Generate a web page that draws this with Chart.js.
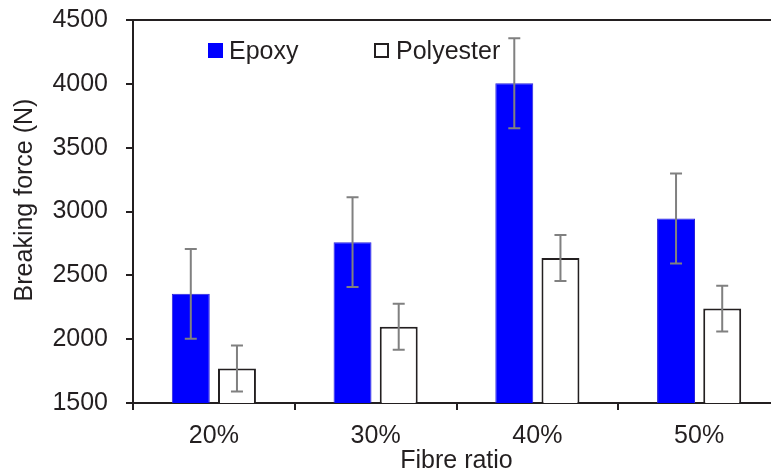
<!DOCTYPE html>
<html>
<head>
<meta charset="utf-8">
<script src="https://cdn.jsdelivr.net/npm/chart.js@4/dist/chart.umd.min.js"></script>
<style>
  html, body { margin: 0; padding: 0; background: #fff; overflow: hidden; }
  #wrap { width: 782px; height: 474px; }
</style>
</head>
<body>
<div id="wrap"><canvas id="c" width="782" height="474"></canvas></div>
<script>
// ---- data ----
const categories = ['20%', '30%', '40%', '50%'];
const epoxy = [2355, 2760, 4005, 2945];
const epoxyErr = [352, 352, 353, 352];
const polyester = [1770, 2097, 2635, 2240];
const polyesterErr = [180, 180, 180, 179];
const yTicks = [1500, 2000, 2500, 3000, 3500, 4000, 4500];
const seriesNames = ['Epoxy', 'Polyester'];
const yTitle = 'Breaking force (N)';
const xTitle = 'Fibre ratio';

const ink = '#231f20';
const FONT = '"Liberation Sans", Arial, sans-serif';

const errorBars = {
  id: 'errorBars',
  afterDatasetsDraw(chart) {
    const ctx = chart.ctx;
    const y = chart.scales.y;
    const errs = [epoxyErr, polyesterErr];
    ctx.save();
    ctx.strokeStyle = '#808080';
    ctx.lineWidth = 2;
    chart.data.datasets.forEach((ds, di) => {
      const meta = chart.getDatasetMeta(di);
      meta.data.forEach((bar, i) => {
        const v = ds.data[i], e = errs[di][i];
        const x = bar.x;
        const yt = y.getPixelForValue(v + e);
        const yb = y.getPixelForValue(v - e);
        ctx.beginPath();
        ctx.moveTo(x, yt); ctx.lineTo(x, yb);
        ctx.moveTo(x - 6, yt); ctx.lineTo(x + 6, yt);
        ctx.moveTo(x - 6, yb); ctx.lineTo(x + 6, yb);
        ctx.stroke();
      });
    });
    ctx.restore();
  }
};

const frameAndLegend = {
  id: 'frameAndLegend',
  afterDraw(chart) {
    const ctx = chart.ctx;
    const a = chart.chartArea;
    ctx.save();
    ctx.strokeStyle = ink;
    ctx.lineWidth = 2;
    ctx.beginPath();
    ctx.moveTo(a.left - 1, a.top);
    ctx.lineTo(a.right + 1, a.top);
    ctx.stroke();
    const ds = chart.data.datasets;
    ctx.font = '25px ' + FONT;
    ctx.textBaseline = 'alphabetic';
    ctx.textAlign = 'left';
    ctx.fillStyle = ds[0].backgroundColor;
    ctx.fillRect(208, 43, 15, 15);
    ctx.fillStyle = ink;
    ctx.fillText(ds[0].label, 229, 59);
    ctx.fillStyle = '#fff';
    ctx.fillRect(375, 44, 13, 13);
    ctx.strokeStyle = ink;
    ctx.lineWidth = 2;
    ctx.strokeRect(375, 44, 13, 13);
    ctx.fillStyle = ink;
    ctx.fillText(ds[1].label, 396, 59);
    // y-axis title
    ctx.save();
    ctx.translate(25.5, 200);
    ctx.rotate(-Math.PI / 2);
    ctx.textAlign = 'center';
    ctx.textBaseline = 'middle';
    ctx.fillText(yTitle, 0, 0);
    ctx.restore();
    ctx.restore();
  }
};

new Chart(document.getElementById('c'), {
  type: 'bar',
  data: {
    labels: categories,
    datasets: [
      {
        label: seriesNames[0],
        data: epoxy,
        backgroundColor: '#0000ff',
        borderColor: '#2a22d8',
        borderWidth: 1,
        borderSkipped: false,
        categoryPercentage: 0.571,
        barPercentage: 0.822
      },
      {
        label: seriesNames[1],
        data: polyester,
        backgroundColor: '#ffffff',
        borderColor: ink,
        borderWidth: 2,
        borderSkipped: 'start',
        categoryPercentage: 0.571,
        barPercentage: 0.822
      }
    ]
  },
  options: {
    responsive: false,
    animation: false,
    devicePixelRatio: 1,
    layout: { padding: { top: 20, right: 2, left: 0, bottom: 0 } },
    plugins: {
      legend: { display: false },
      tooltip: { enabled: false }
    },
    scales: {
      x: {
        type: 'category',
        grid: {
          offset: true,
          drawOnChartArea: false,
          drawTicks: true,
          tickLength: 7,
          color: ink,
          lineWidth: 2
        },
        border: { display: true, color: ink, width: 2 },
        ticks: {
          color: ink,
          font: { family: FONT, size: 25 },
          padding: 11,
          maxRotation: 0
        },
        title: {
          display: true,
          text: xTitle,
          color: ink,
          font: { family: FONT, size: 25, lineHeight: 1 },
          padding: { top: 0, bottom: 0 }
        },
        afterFit(s) { s.height = 71; s.paddingLeft = 0; s.paddingRight = 0; }
      },
      y: {
        type: 'linear',
        min: yTicks[0],
        max: yTicks[yTicks.length - 1],
        afterBuildTicks(s) { s.ticks = yTicks.map(v => ({ value: v })); },
        grid: {
          drawOnChartArea: false,
          drawTicks: true,
          tickLength: 7,
          color: ink,
          lineWidth: 2
        },
        border: { display: true, color: ink, width: 2 },
        ticks: {
          color: ink,
          font: { family: FONT, size: 25 },
          padding: 18,
          callback: (v) => String(v)
        },
        title: { display: false },
        afterFit(s) { s.width = 133; s.paddingTop = 0; s.paddingBottom = 0; }
      }
    }
  },
  plugins: [errorBars, frameAndLegend]
});
</script>
</body>
</html>
